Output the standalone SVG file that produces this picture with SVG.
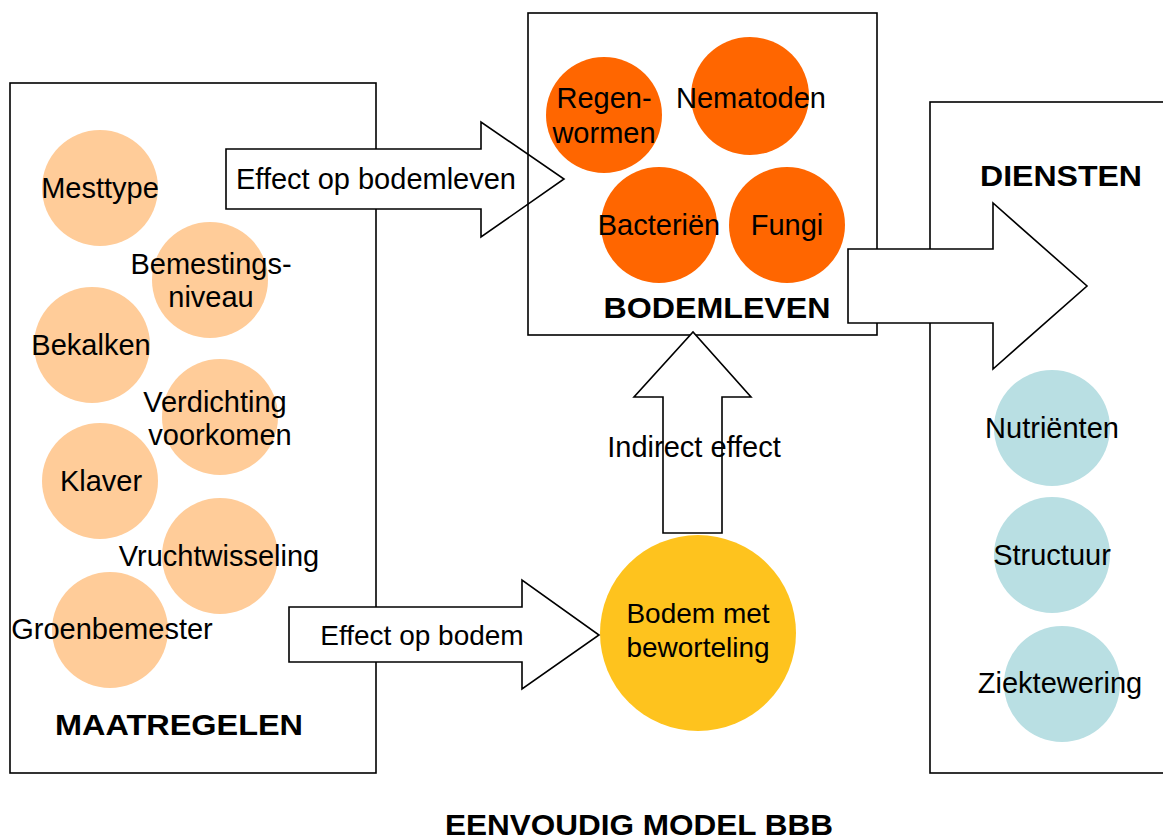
<svg xmlns="http://www.w3.org/2000/svg" width="1163" height="838" viewBox="0 0 1163 838">
<style>
.box{fill:none;stroke:#000;stroke-width:1.6}
.arr{fill:#fff;stroke:#000;stroke-width:1.6;stroke-linejoin:miter}
.t{font-family:"Liberation Sans",Arial,sans-serif;font-size:29px;fill:#000;text-anchor:middle}
.s{font-size:28px}
.b{font-family:"Liberation Sans",Arial,sans-serif;font-size:30px;font-weight:bold;fill:#000;text-anchor:middle}
.peach{fill:#FFCC99}
.orange{fill:#FF6600}
.yellow{fill:#FEC31E}
.blue{fill:#B9DFE3}
</style>
<rect width="1163" height="838" fill="#fff"/>
<g id="maatregelen">
<rect class="box" x="10" y="83" width="366" height="690"/>
<text class="b" x="179" y="735" textLength="248" lengthAdjust="spacingAndGlyphs">MAATREGELEN</text>
</g>
<g id="mesttype"><circle class="peach" cx="100" cy="188" r="58"/><text class="t" x="100" y="198">Mesttype</text></g>
<g id="bemestings"><circle class="peach" cx="210" cy="280" r="58"/><text class="t" x="211" y="274">Bemestings-</text><text class="t" x="211" y="307">niveau</text></g>
<g id="bekalken"><circle class="peach" cx="92" cy="345" r="58"/><text class="t" x="91" y="355">Bekalken</text></g>
<g id="verdichting"><circle class="peach" cx="220" cy="417" r="58"/><text class="t" x="215" y="412">Verdichting</text><text class="t" x="220" y="445">voorkomen</text></g>
<g id="klaver"><circle class="peach" cx="100" cy="481" r="58"/><text class="t" x="101" y="491">Klaver</text></g>
<g id="vruchtwisseling"><circle class="peach" cx="220" cy="556" r="58"/><text class="t" x="219" y="566">Vruchtwisseling</text></g>
<g id="groenbemester"><circle class="peach" cx="110" cy="630" r="58"/><text class="t" x="112" y="639">Groenbemester</text></g>

<g id="bodem">
<circle class="yellow" cx="698" cy="633" r="98"/>
<text class="t s" x="698" y="623">Bodem met</text>
<text class="t s" x="698" y="657">beworteling</text>
</g>

<g id="connectors">
<polygon id="arrow-bodemleven" class="arr" points="226,149 481,149 481,122 564,179 481,237 481,209 226,209"/>
<text class="t" x="376" y="189">Effect op bodemleven</text>
<polygon id="arrow-bodem" class="arr" points="289,607 522,607 522,580 599,635 522,689 522,662 289,662"/>
<text class="t s" x="422" y="645">Effect op bodem</text>
</g>

<g id="bodemleven">
<rect class="box" x="528" y="13" width="349" height="322"/>
<circle class="orange" cx="604" cy="115" r="58"/>
<circle class="orange" cx="750" cy="96" r="59"/>
<circle class="orange" cx="659" cy="225" r="58"/>
<circle class="orange" cx="787" cy="225" r="58"/>
<text class="t" x="604" y="108">Regen-</text>
<text class="t" x="604" y="143">wormen</text>
<text class="t" x="751" y="108">Nematoden</text>
<text class="t" x="659" y="235">Bacteriën</text>
<text class="t" x="787" y="235">Fungi</text>
<text class="b" x="717" y="318" textLength="227" lengthAdjust="spacingAndGlyphs">BODEMLEVEN</text>
</g>

<g id="diensten">
<rect class="box" x="930" y="102" width="240" height="671"/>
<text class="b" x="1061" y="186" textLength="162" lengthAdjust="spacingAndGlyphs">DIENSTEN</text>
<circle class="blue" cx="1052" cy="428" r="58"/><text class="t" x="1052" y="438">Nutriënten</text>
<circle class="blue" cx="1052" cy="555" r="58"/><text class="t" x="1052" y="565">Structuur</text>
<circle class="blue" cx="1062" cy="684" r="58"/><text class="t" x="1060" y="693">Ziektewering</text>
</g>

<g id="connectors2">
<polygon id="arrow-indirect" class="arr" points="663,533 663,397 634,397 693,332 751,397 722,397 722,533"/>
<text class="t" x="694" y="457">Indirect effect</text>
<polygon id="arrow-diensten" class="arr" points="848,249 993,249 993,203 1087,286 993,369 993,323 848,323"/>
</g>

<text class="b" x="639" y="835" textLength="388" lengthAdjust="spacingAndGlyphs">EENVOUDIG MODEL BBB</text>
</svg>
